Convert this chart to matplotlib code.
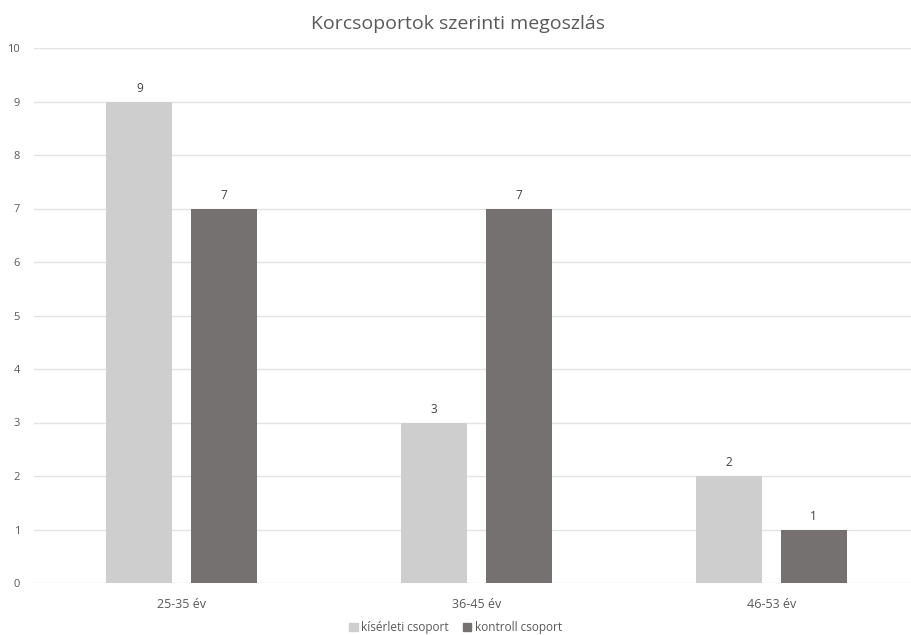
import numpy as np
import matplotlib.pyplot as plt
from matplotlib.patches import Patch

plt.rcParams['font.family'] = ['Open Sans', 'DejaVu Sans']

# data
categories = ["25-35 év", "36-45 év", "46-53 év"]
kiserleti = [9, 3, 2]
kontroll = [7, 7, 1]
series_names = ["kísérleti csoport", "kontroll csoport"]

light = "#cfcece"
dark = "#767171"
txt = "#595959"

fig = plt.figure(figsize=(9.11, 6.35), dpi=100)
ax = fig.add_axes([34/911, 52/635, 877/911, 535/635])

x = np.arange(len(categories))
w = 0.224
off = 0.143
b1 = ax.bar(x - off, kiserleti, w, color=light, zorder=2)
b2 = ax.bar(x + off, kontroll, w, color=dark, zorder=2)

for bars in (b1, b2):
    for r in bars:
        ax.annotate(str(int(r.get_height())), (r.get_x() + r.get_width()/2, r.get_height()),
                    xytext=(0, 5), textcoords="offset points", ha="center", va="bottom",
                    fontsize=8.5, color="#404040")

ax.set_ylim(0, 10)
ax.set_xlim(-0.5, 2.473)
ax.set_yticks(range(0, 11))
ax.set_xticks(x)
ax.set_xticklabels(categories)
ax.tick_params(axis='both', length=0, colors=txt)
ax.tick_params(axis='y', labelsize=8, pad=10)
ax.tick_params(axis='x', labelsize=9, pad=11)
ax.grid(axis='y', color="#e3e3e3", linewidth=1, zorder=0)
for s in ax.spines.values():
    s.set_visible(False)

fig.text(0.503, 0.962, "Korcsoportok szerinti megoszlás", ha="center", va="center",
         fontsize=14, color=txt)

handles = [Patch(color=light), Patch(color=dark)]
fig.legend(handles, series_names, loc="center", bbox_to_anchor=(0.5, 0.012),
           ncol=2, frameon=False, fontsize=8.5, handlelength=0.7, handleheight=0.7,
           handletextpad=0.3, columnspacing=1.2, labelcolor=txt)

fig.savefig("out.png", dpi=100)
